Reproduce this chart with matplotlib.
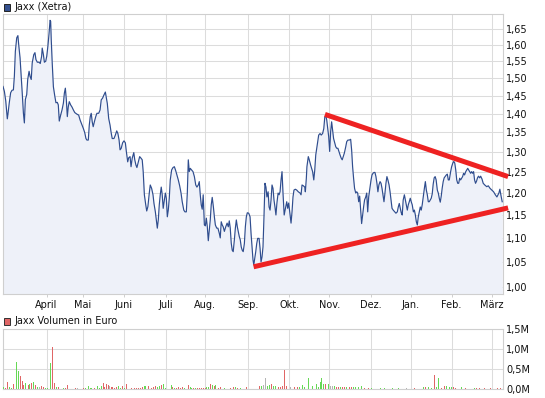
import matplotlib
matplotlib.use("Agg")
import matplotlib.pyplot as plt
from matplotlib.patches import Rectangle
from matplotlib.ticker import FixedLocator, FuncFormatter, NullLocator, NullFormatter

# ── Colours ───────────────────────────────────────────────
STYLE = {
    "grid":   "#dcdcdc",
    "border": "#cfcfcf",
    "line":   "#2f4d8e",
    "fill":   "#eef1f9",
    "trend":  "#ee2222",
    "text":   "#111111",
    "vol_g":  "#66d855",
    "vol_r":  "#e06666",
    "vol_n":  "#b4b4b4",
}
plt.rcParams.update({"font.family": "DejaVu Sans", "font.size": 7})

# ── Data (trading-day index, price in EUR) ────────────────
price_day = [
    0, 0.7, 1.4, 1.9, 2.2, 2.6, 3.2, 3.9, 4.6, 5.3, 5.8, 6.3, 7.0, 7.6, 8.0, 8.7, 9.3, 9.8,
    10.4, 10.9, 11.4, 12.1, 12.6, 13.3, 13.8, 14.4, 14.9, 15.7, 16.3, 16.8, 17.5, 18.4, 19.0,
    19.7, 20.0, 20.6, 21.1, 21.8, 22.3, 22.9, 23.5, 24.0, 24.3, 24.6, 25.1, 25.7, 26.4, 27.0,
    27.7, 28.2, 28.7, 29.4, 30.1, 30.8, 31.3, 31.8, 32.3, 32.8, 33.3, 33.8, 34.5, 35.2, 35.9,
    36.6, 37.6, 38.6, 39.3, 40.1, 41.0, 41.7, 42.3, 42.8, 43.5, 44.0, 44.5, 45.0, 45.5, 46.0,
    46.6, 47.3, 47.9, 48.8, 49.5, 50.1, 50.8, 51.5, 52.2, 52.7, 53.2, 53.9, 54.6, 55.1, 55.7,
    56.6, 57.3, 58.0, 58.6, 59.2, 59.7, 60.3, 61.0, 61.7, 62.4, 62.9, 63.6, 64.1, 64.8, 65.3,
    65.9, 66.7, 67.2, 67.8, 68.3, 69.0, 69.7, 70.4, 71.0, 71.5, 72.1, 72.8, 73.3, 73.9, 74.6,
    75.1, 75.8, 76.5, 77.0, 77.7, 78.2, 78.7, 79.2, 79.7, 80.2, 80.7, 81.2, 81.7, 82.3, 82.8,
    83.3, 83.8, 84.3, 84.8, 85.3, 86.0, 86.7, 87.4, 88.1, 88.7, 89.4, 90.1, 90.8, 91.4, 92.2,
    92.8, 93.5, 94.0, 94.5, 95.0, 95.5, 96.2, 96.9, 97.6, 98.3, 98.9, 99.6, 100.1, 100.6,
    101.1, 101.6, 102.1, 102.7, 103.2, 103.7, 104.2, 104.7, 105.2, 105.7, 106.2, 106.7, 107.3,
    107.8, 108.3, 109.0, 109.6, 110.3, 110.8, 111.3, 111.8, 112.3, 112.9, 113.6, 114.3, 114.9,
    115.4, 115.9, 116.4, 116.9, 117.4, 118.0, 118.5, 119.0, 119.5, 120.0, 120.5, 121.0, 121.5,
    122.0, 122.5, 123.1, 123.6, 124.1, 124.6, 125.3, 126.0, 126.5, 127.0, 127.5, 127.9, 128.4,
    128.9, 129.4, 129.9, 130.6, 131.1, 131.6, 132.1, 132.6, 133.1, 133.6, 134.1, 134.6, 135.2,
    135.7, 136.2, 136.7, 137.2, 137.7, 138.2, 138.7, 139.2, 139.7, 140.3, 140.8, 141.3, 141.8,
    142.3, 142.8, 143.4, 144.2, 144.7, 145.2, 145.7, 146.4, 146.9, 147.4, 147.9, 148.4, 149.1,
    149.8, 150.6, 151.5, 152.0, 152.5, 153.2, 153.9, 154.2, 154.7, 155.0, 155.7, 156.2, 156.9,
    157.4, 157.9, 158.5, 159.0, 159.5, 160.0, 160.5, 161.0, 161.7, 162.3, 163.0, 163.6, 164.1,
    164.6, 165.1, 165.6, 166.1, 166.6, 167.1, 167.6, 168.1, 168.6, 169.2, 169.7, 170.2, 170.8,
    171.3, 171.9, 172.5, 173.0, 173.5, 174.1, 174.8, 175.3, 175.9, 176.6, 177.3, 177.8, 178.3,
    178.8, 179.3, 179.9, 180.4, 180.9, 181.4, 181.9, 182.4, 182.9, 183.4, 183.9, 184.4, 185.0,
    185.5, 186.0, 186.5, 187.0, 187.7, 188.2, 188.7, 189.2, 189.7, 190.2, 190.7, 191.2, 191.7,
    192.3, 192.8, 193.3, 193.8, 194.3, 194.8, 195.3, 195.8, 196.3, 196.9, 197.4, 197.9, 198.4,
    199.0, 199.8, 200.4, 201.1, 201.6, 202.1, 202.6, 203.1, 203.6, 204.1, 204.7, 205.2, 205.7,
    206.2, 206.7, 207.2, 207.7, 208.2, 208.7, 209.3, 209.8, 210.3, 210.8, 211.3, 211.8, 212.3,
    212.8, 213.3, 213.8, 214.3, 214.9, 215.4, 215.9, 216.4, 216.9, 217.4, 217.9, 218.4, 218.9,
    219.4, 219.9, 220.4, 220.9, 221.5, 222.0, 222.5, 223.0, 223.5, 224.0, 224.5, 225.0, 225.5,
    226.1, 226.6, 227.1, 227.6, 228.3, 228.8, 229.4, 229.9, 230.4, 230.9, 231.4, 231.9, 232.4,
    232.9, 233.4, 233.9, 234.4, 234.9, 235.4, 236.0, 236.5, 237.0, 237.5, 238.0, 238.5, 239.0,
    239.5, 240.0, 240.5, 241.0, 241.5, 242.0, 242.5, 243.1, 243.6, 244.3, 244.9, 245.7, 246.7,
    247.5, 248.4, 249.3, 250.2, 251.1, 251.9, 252.9, 253.4, 254.1, 254.6,
]
price = [
    1.476, 1.462, 1.435, 1.402, 1.386, 1.402, 1.430, 1.458, 1.465, 1.466, 1.506, 1.580, 1.622,
    1.629, 1.601, 1.560, 1.506, 1.458, 1.402, 1.375, 1.439, 1.453, 1.496, 1.520, 1.505, 1.496,
    1.545, 1.570, 1.576, 1.555, 1.547, 1.547, 1.543, 1.565, 1.590, 1.570, 1.547, 1.550, 1.565,
    1.596, 1.637, 1.678, 1.675, 1.617, 1.545, 1.475, 1.449, 1.430, 1.431, 1.424, 1.380, 1.396,
    1.410, 1.429, 1.457, 1.471, 1.438, 1.392, 1.419, 1.433, 1.424, 1.418, 1.410, 1.403, 1.399,
    1.396, 1.383, 1.372, 1.360, 1.349, 1.334, 1.330, 1.330, 1.369, 1.392, 1.401, 1.378, 1.365,
    1.378, 1.392, 1.401, 1.401, 1.410, 1.438, 1.443, 1.452, 1.460, 1.443, 1.428, 1.387, 1.369,
    1.351, 1.334, 1.334, 1.343, 1.354, 1.347, 1.330, 1.305, 1.309, 1.323, 1.328, 1.323, 1.301,
    1.275, 1.285, 1.288, 1.263, 1.284, 1.298, 1.280, 1.267, 1.261, 1.275, 1.288, 1.284, 1.280,
    1.251, 1.196, 1.173, 1.159, 1.169, 1.200, 1.219, 1.211, 1.196, 1.176, 1.157, 1.139, 1.121,
    1.139, 1.173, 1.196, 1.214, 1.196, 1.165, 1.184, 1.200, 1.188, 1.146, 1.161, 1.188, 1.231,
    1.255, 1.261, 1.263, 1.253, 1.243, 1.231, 1.217, 1.200, 1.180, 1.161, 1.157, 1.157, 1.200,
    1.280, 1.251, 1.259, 1.255, 1.251, 1.239, 1.219, 1.214, 1.219, 1.227, 1.196, 1.173, 1.163,
    1.196, 1.128, 1.126, 1.143, 1.124, 1.094, 1.117, 1.139, 1.173, 1.190, 1.168, 1.146, 1.128,
    1.121, 1.121, 1.110, 1.100, 1.135, 1.128, 1.124, 1.114, 1.124, 1.132, 1.124, 1.137, 1.121,
    1.089, 1.074, 1.071, 1.096, 1.121, 1.139, 1.124, 1.114, 1.103, 1.096, 1.081, 1.074, 1.071,
    1.088, 1.124, 1.146, 1.155, 1.154, 1.146, 1.110, 1.081, 1.054, 1.044, 1.057, 1.071, 1.088,
    1.099, 1.099, 1.078, 1.050, 1.060, 1.081, 1.146, 1.223, 1.214, 1.191, 1.203, 1.168, 1.161,
    1.184, 1.219, 1.211, 1.184, 1.168, 1.150, 1.177, 1.200, 1.196, 1.203, 1.231, 1.251, 1.200,
    1.150, 1.168, 1.180, 1.165, 1.177, 1.150, 1.132, 1.157, 1.191, 1.207, 1.209, 1.207, 1.203,
    1.200, 1.196, 1.219, 1.217, 1.214, 1.203, 1.235, 1.263, 1.288, 1.280, 1.267, 1.259, 1.251,
    1.231, 1.255, 1.292, 1.309, 1.326, 1.343, 1.347, 1.343, 1.347, 1.360, 1.390, 1.396, 1.383,
    1.360, 1.339, 1.301, 1.352, 1.378, 1.356, 1.334, 1.322, 1.313, 1.309, 1.309, 1.301, 1.292,
    1.284, 1.280, 1.288, 1.297, 1.313, 1.326, 1.330, 1.330, 1.332, 1.305, 1.263, 1.235, 1.211,
    1.200, 1.203, 1.200, 1.180, 1.193, 1.161, 1.131, 1.150, 1.168, 1.184, 1.191, 1.200, 1.157,
    1.191, 1.207, 1.231, 1.243, 1.247, 1.249, 1.249, 1.239, 1.223, 1.203, 1.219, 1.227, 1.223,
    1.211, 1.196, 1.180, 1.200, 1.223, 1.239, 1.231, 1.219, 1.203, 1.184, 1.165, 1.161, 1.157,
    1.154, 1.157, 1.168, 1.176, 1.165, 1.155, 1.150, 1.184, 1.196, 1.184, 1.173, 1.161, 1.173,
    1.180, 1.188, 1.180, 1.173, 1.157, 1.161, 1.150, 1.135, 1.128, 1.146, 1.157, 1.168, 1.161,
    1.173, 1.191, 1.211, 1.227, 1.207, 1.196, 1.180, 1.180, 1.184, 1.188, 1.198, 1.221, 1.236,
    1.239, 1.231, 1.207, 1.200, 1.188, 1.179, 1.193, 1.212, 1.227, 1.236, 1.239, 1.243, 1.245,
    1.231, 1.231, 1.251, 1.263, 1.272, 1.276, 1.272, 1.255, 1.231, 1.223, 1.223, 1.235, 1.231,
    1.235, 1.239, 1.247, 1.243, 1.251, 1.255, 1.259, 1.255, 1.251, 1.247, 1.251, 1.247, 1.251,
    1.231, 1.223, 1.228, 1.236, 1.240, 1.236, 1.240, 1.233, 1.223, 1.219, 1.215, 1.217, 1.211,
    1.207, 1.203, 1.196, 1.191, 1.200, 1.209, 1.191, 1.180,
]

# hand-drawn trend lines (start / end)
trend_upper_day = [164.2, 257.6]
trend_upper_px = [1.398, 1.239]
trend_lower_day = [127.8, 257.6]
trend_lower_px = [1.040, 1.166]

# volume in thousand EUR, colour g = up, r = down, n = unchanged
vol_day = [
    0.2, 1.2, 2.2, 3.2, 4.2, 5.6, 6.8, 7.8, 8.8, 9.7, 10.7, 11.7, 12.8, 13.6, 14.4, 15.5, 16.5,
    17.5, 18.5, 19.5, 20.6, 21.6, 22.6, 24.1, 25.1, 26.2, 27.2, 28.2, 29.2, 30.8, 31.8, 32.8,
    36.9, 37.9, 41.0, 42.3, 43.5, 44.4, 45.2, 46.9, 48.1, 49.0, 50.0, 51.2, 52.0, 52.9, 53.6,
    54.2, 55.1, 55.9, 56.8, 58.0, 59.0, 60.0, 60.8, 62.2, 63.2, 65.3, 66.3, 67.2, 68.2, 69.2,
    70.0, 71.0, 72.1, 72.9, 74.0, 75.8, 77.0, 78.0, 78.9, 79.7, 80.7, 81.8, 83.1, 85.8, 86.5,
    87.6, 88.6, 89.6, 90.6, 91.6, 92.8, 94.5, 95.4, 96.0, 97.1, 98.1, 99.1, 100.1, 101.1, 102.2,
    103.2, 103.9, 104.9, 105.7, 106.7, 107.8, 108.6, 110.0, 111.0, 112.0, 113.2, 116.1, 117.5,
    118.7, 119.7, 120.9, 124.1, 130.6, 131.8, 132.9, 133.7, 134.9, 136.0, 137.1, 138.2, 139.1,
    140.3, 141.4, 142.4, 143.5, 144.5, 146.7, 148.8, 150.2, 151.3, 152.7, 153.8, 155.6, 157.7,
    159.8, 160.9, 161.9, 162.6, 163.7, 164.7, 165.8, 166.9, 168.0, 169.0, 170.1, 171.1, 172.2,
    173.2, 174.3, 175.4, 176.5, 177.5, 178.9, 180.0, 181.1, 182.8, 184.6, 186.4, 188.1, 192.6,
    194.4, 198.8, 201.5, 205.9, 210.1, 214.4, 215.4, 216.9, 218.3, 220.1, 221.1, 222.2, 223.6,
    225.4, 226.4, 227.9, 228.9, 230.0, 231.0, 233.9, 236.0, 240.5, 241.3, 243.1, 245.8, 248.4,
    252.0, 253.7,
]
vol_k = [
    50, 33, 190, 58, 33, 133, 683, 458, 333, 208, 108, 150, 108, 133, 167, 183, 108,
    67, 50, 83, 67, 33, 33, 658, 1067, 167, 58, 50, 17, 33, 33, 117,
    33, 33, 33, 42, 83, 33, 25, 25, 75, 33, 83, 150, 58, 142, 100,
    83, 50, 50, 33, 50, 83, 25, 83, 33, 133, 33, 33, 33, 33, 33,
    33, 50, 75, 83, 83, 33, 50, 83, 50, 75, 117, 133, 33, 100, 67,
    33, 33, 50, 33, 50, 33, 100, 67, 25, 33, 33, 25, 33, 33, 25,
    33, 58, 58, 133, 108, 83, 100, 33, 58, 17, 25, 33, 58,
    58, 33, 33, 58, 92, 92, 108, 293, 92, 108, 125, 92, 92,
    58, 58, 92, 487, 75, 58, 58, 58, 58, 108, 58, 293, 92,
    125, 58, 175, 275, 142, 142, 142, 75, 75, 75, 58, 58, 58,
    58, 58, 58, 58, 58, 58, 58, 58, 92, 42, 42, 42, 42,
    42, 42, 42, 42, 25, 58, 58, 58, 42, 361, 58, 293, 42,
    92, 75, 58, 58, 58, 42, 58, 42, 42, 42, 42, 42, 42,
    42, 42,
]
vol_dir = list(
    "grrggrggrrrgrgrgr"
    "gnrrgggrrgrggr"
    "rrnrggggrgggrrr"
    "rnrrrrggrgrrrrr"
    "rrrggrrrrggrggg"
    "rgrrrrgrggrgrrr"
    "rrggrgrgrrrgrrg"
    "rgrrgnnggrggrrr"
    "rrnrrggggggggg"
    "grgnngrrgrrgrrgggg"
    "rrgggggnrgrggrg"
    "grrgggrrgrgrrrrrr"
    "g"
)

months = ["April", "Mai", "Juni", "Juli", "Aug.", "Sep.", "Okt.",
          "Nov.", "Dez.", "Jan.", "Feb.", "März"]
month_day = [22.2, 40.6, 61.5, 83.0, 102.9, 125.2, 146.0, 166.4,
             187.5, 207.9, 228.8, 249.4]
price_ticks = [1.00, 1.05, 1.10, 1.15, 1.20, 1.25, 1.30, 1.35,
               1.40, 1.45, 1.50, 1.55, 1.60, 1.65]
vol_ticks = [0.0, 0.5, 1.0, 1.5]

X_MAX = 255
PRICE_LO, PRICE_HI = 0.9865, 1.6988

# ── Figure ────────────────────────────────────────────────
W, H = 545, 398
fig = plt.figure(figsize=(W / 100, H / 100), dpi=100, facecolor="white")
ax = fig.add_axes([3 / W, 1 - 294 / H, 500 / W, 280 / H])
axv = fig.add_axes([3 / W, 1 - 389.3 / H, 500 / W, 60 / H])


def style_axes(a):
    a.set_facecolor("white")
    for s in a.spines.values():
        s.set_edgecolor(STYLE["border"])
        s.set_linewidth(0.8)
    a.set_axisbelow(True)
    a.grid(True, color=STYLE["grid"], linewidth=0.75)
    a.set_xlim(0, X_MAX)
    a.set_xticks(month_day)
    a.yaxis.tick_right()
    a.tick_params(axis="y", length=0, pad=2.2, labelsize=7, colors=STYLE["text"])
    a.tick_params(axis="x", length=2.5, width=0.7, color=STYLE["border"],
                  pad=2.0, labelsize=7, labelcolor=STYLE["text"])


# ── Price panel ───────────────────────────────────────────
style_axes(ax)
ax.set_yscale("log")
ax.set_ylim(PRICE_LO, PRICE_HI)
ax.yaxis.set_major_locator(FixedLocator(price_ticks))
ax.yaxis.set_minor_locator(NullLocator())
ax.yaxis.set_minor_formatter(NullFormatter())
ax.yaxis.set_major_formatter(FuncFormatter(lambda v, _: f"{v:.2f}".replace(".", ",")))
ax.set_xticklabels(months)

ax.fill_between(price_day, price, PRICE_LO, color=STYLE["fill"], linewidth=0, zorder=1)
ax.plot(price_day, price, color=STYLE["line"], linewidth=0.85, zorder=3)
for d, p in ((trend_upper_day, trend_upper_px), (trend_lower_day, trend_lower_px)):
    ax.plot(d, p, color=STYLE["trend"], linewidth=3.6, solid_capstyle="butt",
            clip_on=False, zorder=5)

# ── Volume panel ──────────────────────────────────────────
style_axes(axv)
axv.set_ylim(0, 1.5)
axv.set_yticks(vol_ticks)
axv.yaxis.set_major_formatter(FuncFormatter(lambda v, _: f"{v:.1f}M".replace(".", ",")))
axv.set_xticklabels([])
axv.tick_params(axis="x", length=0)
colmap = {"g": STYLE["vol_g"], "r": STYLE["vol_r"], "n": STYLE["vol_n"]}
axv.bar(vol_day, [v / 1000 for v in vol_k], width=0.5,
        color=[colmap[c] for c in vol_dir], linewidth=0, zorder=3)

# ── Legend squares ────────────────────────────────────────
fig.patches.append(Rectangle((3.5 / W, 1 - 10.5 / H), 6.5 / W, 6.5 / H,
                             transform=fig.transFigure, facecolor="#34508e",
                             edgecolor="#222222", linewidth=0.7))
fig.text(14 / W, 1 - 7 / H, "Jaxx (Xetra)", ha="left", va="center",
         fontsize=7, color=STYLE["text"])
fig.patches.append(Rectangle((3.5 / W, 1 - 324.5 / H), 6.5 / W, 6.5 / H,
                             transform=fig.transFigure, facecolor="#e06666",
                             edgecolor="#333333", linewidth=0.7))
fig.text(14 / W, 1 - 321 / H, "Jaxx Volumen in Euro", ha="left", va="center",
         fontsize=7, color=STYLE["text"])

fig.savefig("out.png", dpi=100, facecolor="white")
